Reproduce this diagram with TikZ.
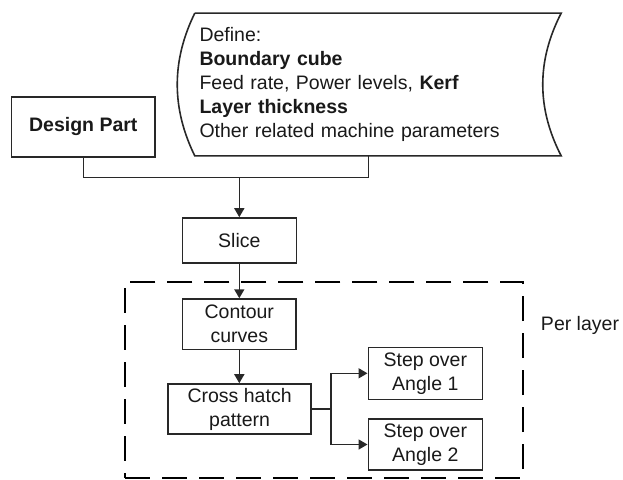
\documentclass[tikz,border=0pt]{standalone}
\usepackage{fontspec}
\setmainfont{Liberation Sans}
\usetikzlibrary{arrows.meta}
\definecolor{linec}{RGB}{40,40,40}
\definecolor{textc}{RGB}{25,25,25}
\begin{document}
\begin{tikzpicture}[x=1pt,y=-1pt,
  box/.style={draw=linec, line width=1.6pt, text=textc, align=center, inner sep=0pt,
    font=\fontsize{19.5}{24}\selectfont},
  conn/.style={draw=linec, line width=1.6pt},
  arr/.style={conn, -{Triangle[length=9pt,width=10pt]}},
  dashbox/.style={draw=black, line width=2pt, dash pattern=on 25pt off 12pt}]
\useasboundingbox (0,0) rectangle (623,479);

% Design part
\node[box, minimum width=143.3pt, minimum height=60pt, font=\fontsize{19.5}{24}\selectfont\bfseries] (dp) at (83.3,126.7) {Design Part};

% Stored data (Define)
\node[inner sep=0pt, text=textc, minimum width=366pt, minimum height=142.4pt,
  text width=357pt, align=left, font=\fontsize{19.5}{24.2}\selectfont] (def) at (378,84.5)
  {Define:\\ \textbf{Boundary cube}\\ Feed rate, Power levels, \textbf{Kerf}\\ \textbf{Layer thickness}\\ Other related machine parameters};
\draw[conn] (def.north west) -- (def.north east)
  .. controls (536.6,60.8) and (536.6,108.2) .. (def.south east)
  -- (def.south west)
  .. controls (171.4,108.2) and (171.4,60.8) .. (def.north west);

% Junction connector
\coordinate (jm) at (239.3,177.3);
\coordinate (jr) at (368.5,177.3);
\draw[conn] (dp.south) |- (jr) -- (jr |- def.south);

% Slice
\node[box, minimum width=114pt, minimum height=45pt] (slice) at (239.3,240.5) {Slice};
\draw[arr] (jm) -- (slice.north);

% Dashed per-layer box
\node[dashbox, minimum width=398pt, minimum height=196.3pt, inner sep=0pt] (layer) at (324,379.85) {};
\node[text=textc, font=\fontsize{19.5}{24}\selectfont, inner sep=0pt] (perlayer) at (580,325) {Per layer};

% Contour
\node[box, minimum width=113.3pt, minimum height=50.3pt] (contour) at (239.3,324.2) {Contour\\curves};
\draw[arr] (slice.south) -- (contour.north);

% Cross hatch
\node[box, minimum width=142.7pt, minimum height=50pt] (cross) at (239.6,409) {Cross hatch\\pattern};
\draw[arr] (contour.south) -- (cross.north -| contour.south);

% Step over boxes
\node[box, minimum width=114pt, minimum height=52pt] (step1) at (425.3,373.3) {Step over\\Angle 1};
\node[box, minimum width=114pt, minimum height=51pt] (step2) at (425.3,444.5) {Step over\\Angle 2};

\coordinate (jx) at (331,409);
\draw[conn] (cross.east) -- (jx);
\draw[arr] (jx) |- (step1.west);
\draw[arr] (jx) |- (step2.west);
\end{tikzpicture}
\end{document}
